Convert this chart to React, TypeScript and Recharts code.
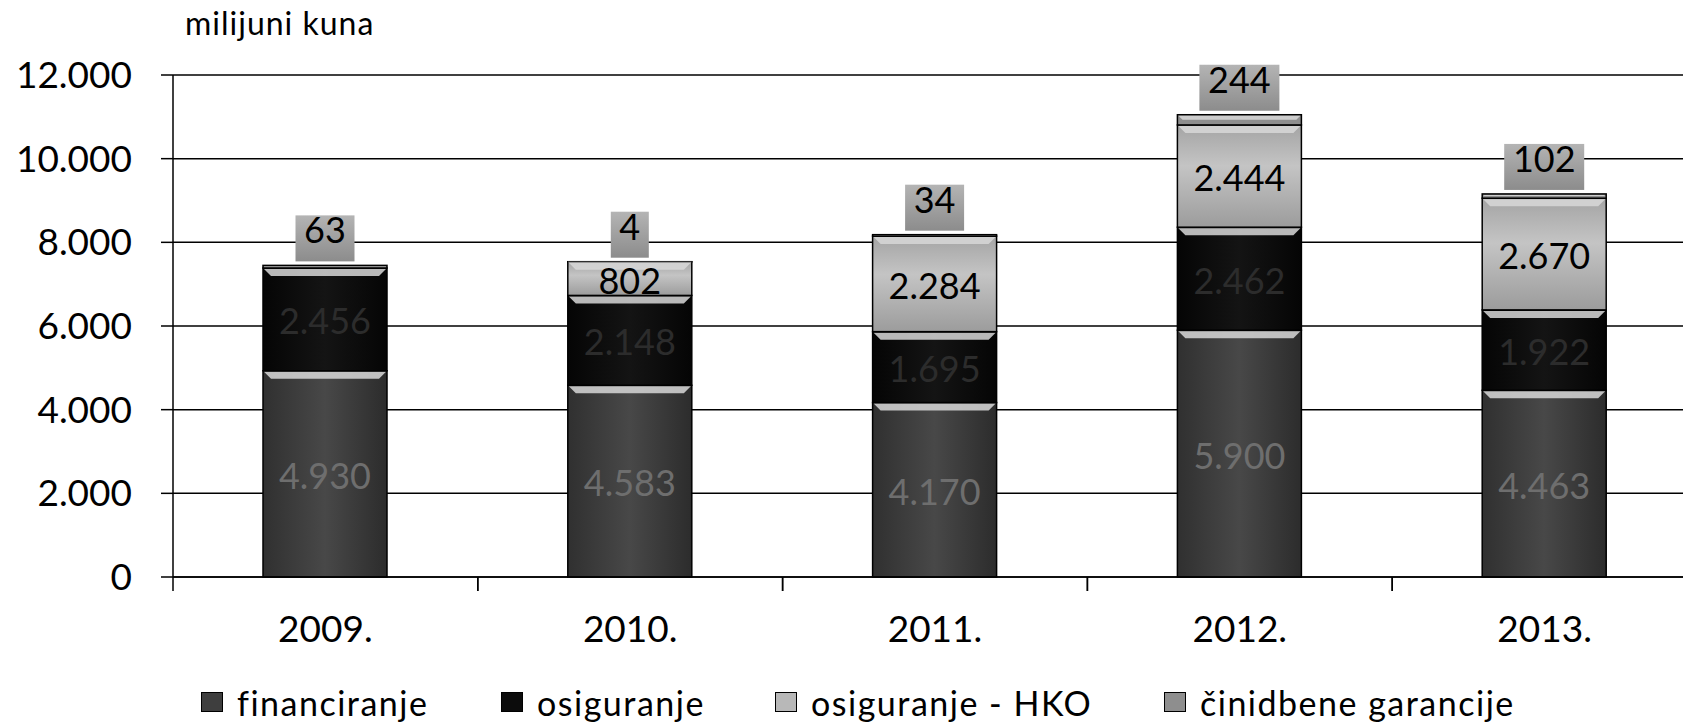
import React from 'react';
import { BarChart, Bar, XAxis, YAxis, CartesianGrid, LabelList, Legend } from 'recharts';

const years = ['2009.', '2010.', '2011.', '2012.', '2013.'];
const financiranje = [4930, 4583, 4170, 5900, 4463];
const osiguranje = [2456, 2148, 1695, 2462, 1922];
const osiguranjeHKO = [0, 802, 2284, 2444, 2670];
const cinidbeneGarancije = [63, 4, 34, 244, 102];
const yTicks = [0, 2000, 4000, 6000, 8000, 10000, 12000];

const seriesNames = ['financiranje', 'osiguranje', 'osiguranje - HKO', 'činidbene garancije'];
const seriesColors = ['#3e3e3e', '#0c0c0c', '#b8b8b8', '#8e8e8e'];

const data = years.map((y, i) => ({
  year: y,
  fin: financiranje[i],
  osi: osiguranje[i],
  hko: osiguranjeHKO[i] || null,
  cin: cinidbeneGarancije[i],
}));

const FONT = 'Lato, "Open Sans", sans-serif';
const fmt = (v: number) => String(v).replace(/\B(?=(\d{3})+(?!\d))/g, '.');

const BevelBar = (props: any) => {
  const { x, y, width, height, fill, gradId } = props;
  if (!height || height <= 0) return null;
  const b = Math.min(8, height / 2);
  return (
    <g>
      <rect x={x} y={y} width={width} height={height} fill={gradId ? `url(#${gradId})` : fill} stroke="#000" strokeWidth={1.5} />
      <polygon
        points={`${x + 1},${y + 1} ${x + width - 1},${y + 1} ${x + width - b},${y + b} ${x + b},${y + b}`}
        fill="#d8d8d8"
        opacity={0.85}
      />
    </g>
  );
};

const makeCenterLabel = (color: string) => (props: any) => {
  const { x, y, width, height, value } = props;
  if (!value) return null;
  return (
    <text
      x={x + width / 2}
      y={y + height / 2 + 6}
      textAnchor="middle"
      dominantBaseline="middle"
      fill={color}
      fontFamily={FONT}
      fontSize={36}
    >
      {fmt(value)}
    </text>
  );
};

const TopBoxLabel = (props: any) => {
  const { x, y, width, value } = props;
  if (value == null) return null;
  const s = fmt(value);
  const w = s.length * 21 + 17;
  const cx = x + width / 2;
  return (
    <g>
      <rect x={cx - w / 2} y={y - 50} width={w} height={46} fill="url(#gBox)" />
      <text x={cx} y={y - 31} textAnchor="middle" dominantBaseline="middle" fill="#000" fontFamily={FONT} fontSize={36}>
        {s}
      </text>
    </g>
  );
};

const XTick = (props: any) => {
  const { x, y, payload } = props;
  const off = payload && payload.offset ? payload.offset : 0;
  return (
    <g>
      {off ? <line x1={x - off} y1={y - 8} x2={x - off} y2={y + 6} stroke="#000" strokeWidth={1.5} /> : null}
      {off ? <line x1={x + off} y1={y - 8} x2={x + off} y2={y + 6} stroke="#000" strokeWidth={1.5} /> : null}
      <text x={x} y={y + 48} textAnchor="middle" dominantBaseline="middle" fill="#000" fontFamily={FONT} fontSize={37}>
        {payload.value}
      </text>
    </g>
  );
};

const LegendContent = () => (
  <div style={{ position: 'relative', width: 1683, height: 44, fontFamily: FONT, fontSize: 34, letterSpacing: 1.5, color: '#000' }}>
    {seriesNames.map((n, i) => (
      <div
        key={n}
        style={{
          position: 'absolute',
          left: [201, 501, 775, 1164][i],
          top: 0,
          height: 44,
          display: 'flex',
          alignItems: 'center',
          whiteSpace: 'nowrap',
        }}
      >
        <span
          style={{
            display: 'inline-block',
            width: 20,
            height: 18,
            background: seriesColors[i],
            border: '1px solid #000',
            marginRight: 14,
          }}
        />
        <span>{n}</span>
      </div>
    ))}
  </div>
);

export default function App() {
  return (
    <div style={{ position: 'absolute', left: 0, top: 0, width: 1683, height: 723, overflow: 'hidden', background: '#fff' }}>
      <div style={{ position: 'absolute', left: 185, top: 7, fontFamily: FONT, fontSize: 32, lineHeight: 1, letterSpacing: 1, color: '#000' }}>
        milijuni kuna
      </div>
      <BarChart
        width={1700}
        height={723}
        data={data}
        margin={{ top: 75, right: 3, bottom: 0, left: 0 }}
      >
        <defs>
          <linearGradient id="gFin" x1="0" y1="0" x2="1" y2="0">
            <stop offset="0" stopColor="#303030" />
            <stop offset="0.5" stopColor="#484848" />
            <stop offset="1" stopColor="#2c2c2c" />
          </linearGradient>
          <linearGradient id="gOsi" x1="0" y1="0" x2="1" y2="0">
            <stop offset="0" stopColor="#050505" />
            <stop offset="0.5" stopColor="#141414" />
            <stop offset="1" stopColor="#050505" />
          </linearGradient>
          <linearGradient id="gHko" x1="0" y1="0" x2="0" y2="1">
            <stop offset="0" stopColor="#a4a4a4" />
            <stop offset="0.4" stopColor="#c4c4c4" />
            <stop offset="1" stopColor="#9c9c9c" />
          </linearGradient>
          <linearGradient id="gBox" x1="0" y1="0" x2="0" y2="1">
            <stop offset="0" stopColor="#b4b4b4" />
            <stop offset="1" stopColor="#8c8c8c" />
          </linearGradient>
        </defs>
        <CartesianGrid vertical={false} stroke="#000" strokeWidth={1.5} />
        <XAxis
          dataKey="year"
          height={102}
          axisLine={{ stroke: '#000', strokeWidth: 1.5 }}
          tickLine={false}
          tick={<XTick />}
          interval={0}
        />
        <YAxis
          width={173}
          domain={[0, 12000]}
          ticks={yTicks}
          interval={0}
          tickFormatter={fmt}
          axisLine={{ stroke: '#000', strokeWidth: 1.5 }}
          tickLine={{ stroke: '#000', strokeWidth: 1.5 }}
          tickSize={12}
          tickMargin={29}
          tick={{ fill: '#000', fontFamily: FONT, fontSize: 37 }}
        />
        <Legend
          verticalAlign="bottom"
          height={44}
          content={<LegendContent />}
          wrapperStyle={{ position: 'absolute', left: 0, top: 680, width: 1683, height: 44 }}
        />
        <Bar dataKey="fin" name={seriesNames[0]} stackId="a" fill={seriesColors[0]} barSize={124} isAnimationActive={false} shape={(p: any) => <BevelBar {...p} gradId="gFin" />}>
          <LabelList dataKey="fin" content={makeCenterLabel('#6e6e6e')} />
        </Bar>
        <Bar dataKey="osi" name={seriesNames[1]} stackId="a" fill={seriesColors[1]} barSize={124} isAnimationActive={false} shape={(p: any) => <BevelBar {...p} gradId="gOsi" />}>
          <LabelList dataKey="osi" content={makeCenterLabel('#2c2c2c')} />
        </Bar>
        <Bar dataKey="hko" name={seriesNames[2]} stackId="a" fill={seriesColors[2]} barSize={124} isAnimationActive={false} shape={(p: any) => <BevelBar {...p} gradId="gHko" />}>
          <LabelList dataKey="hko" content={makeCenterLabel('#000')} />
        </Bar>
        <Bar dataKey="cin" name={seriesNames[3]} stackId="a" fill={seriesColors[3]} barSize={124} isAnimationActive={false} shape={(p: any) => <BevelBar {...p} />}>
          <LabelList dataKey="cin" content={<TopBoxLabel />} />
        </Bar>
      </BarChart>
    </div>
  );
}
